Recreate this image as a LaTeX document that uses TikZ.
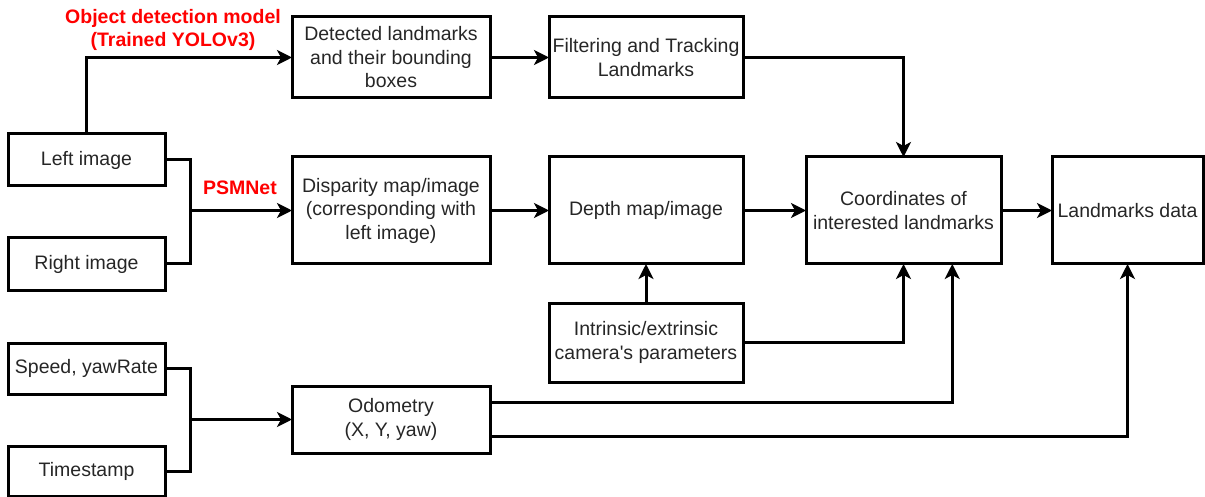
\documentclass[tikz,border=0pt]{standalone}
\usepackage{fontspec}
\setmainfont{Liberation Sans}
\usetikzlibrary{arrows.meta,calc}
\begin{document}
\begin{tikzpicture}[x=1pt,y=-1pt,
 box/.style={draw, line width=3pt, align=center, inner sep=2pt, outer sep=0pt, font=\fontsize{19.5}{23.5}\selectfont, text=black!85},
 conn/.style={line width=3pt, -{Stealth[length=15pt,width=15pt,inset=4pt]}},
 plain/.style={line width=3pt},
 lbl/.style={text=red, font=\bfseries\fontsize{19.5}{23.5}\selectfont, align=center}]
\useasboundingbox (0,0) rectangle (1205,497);
% nodes
\node[box, minimum width=157pt, minimum height=52pt] (left) at (86.5,160) {Left image};
\node[box, minimum width=157pt, minimum height=52pt] (right) at (86.5,264) {Right image};
\node[box, minimum width=157pt, minimum height=51pt] (speed) at (86.5,368.5) {Speed, yawRate};
\node[box, minimum width=157pt, minimum height=50pt] (time) at (86.5,471) {Timestamp};
\node[box, minimum width=198pt, minimum height=81pt] (det) at (391,57.5) {Detected landmarks\\and their bounding\\boxes};
\node[box, minimum width=194pt, minimum height=81pt] (filt) at (646,57.5) {Filtering and Tracking\\Landmarks};
\node[box, minimum width=198pt, minimum height=107pt] (disp) at (391,210.5) {Disparity map/image\\(corresponding with\\left image)};
\node[box, minimum width=194pt, minimum height=107pt] (depth) at (646,210.5) {Depth map/image};
\node[box, minimum width=195pt, minimum height=107pt] (coord) at (903.5,210.5) {Coordinates of\\interested landmarks};
\node[box, minimum width=151pt, minimum height=107pt] (land) at (1127.5,210.5) {Landmarks data};
\node[box, minimum width=194pt, minimum height=79pt] (intr) at (646,342.5) {Intrinsic/extrinsic\\camera\textquotesingle s parameters};
\node[box, minimum width=198pt, minimum height=67pt] (odo) at (391,419.5) {Odometry\\(X, Y, yaw)};
% labels
\node[lbl] (odm) at (173,30) {Object detection model\\(Trained YOLOv3)};
\node[lbl] (psm) at (240,188) {PSMNet};
% junctions
\coordinate (j1) at (190,210.5);
\coordinate (j2) at (190,419.5);
% connectors
\draw[conn] (left.north) |- (det.west);
\draw[conn] (det) -- (filt);
\draw[conn] (filt.east) -| (coord.north);
\draw[plain] (left.east) -| (j1);
\draw[plain] (right.east) -| (j1);
\draw[conn] (j1) -- (disp.west);
\draw[plain] (speed.east) -| (j2);
\draw[plain] (time.east) -| (j2);
\draw[conn] (j2) -- (odo.west);
\draw[conn] (disp) -- (depth);
\draw[conn] (depth) -- (coord);
\draw[conn] (coord) -- (land);
\draw[conn] (intr.north) -- (depth.south);
\draw[conn] (intr.east) -| (coord.south);
\draw[conn] ($(odo.north east)!0.25!(odo.south east)$) -| ($(coord.south west)!0.75!(coord.south east)$);
\draw[conn] ($(odo.north east)!0.75!(odo.south east)$) -| (land.south);
\end{tikzpicture}
\end{document}
